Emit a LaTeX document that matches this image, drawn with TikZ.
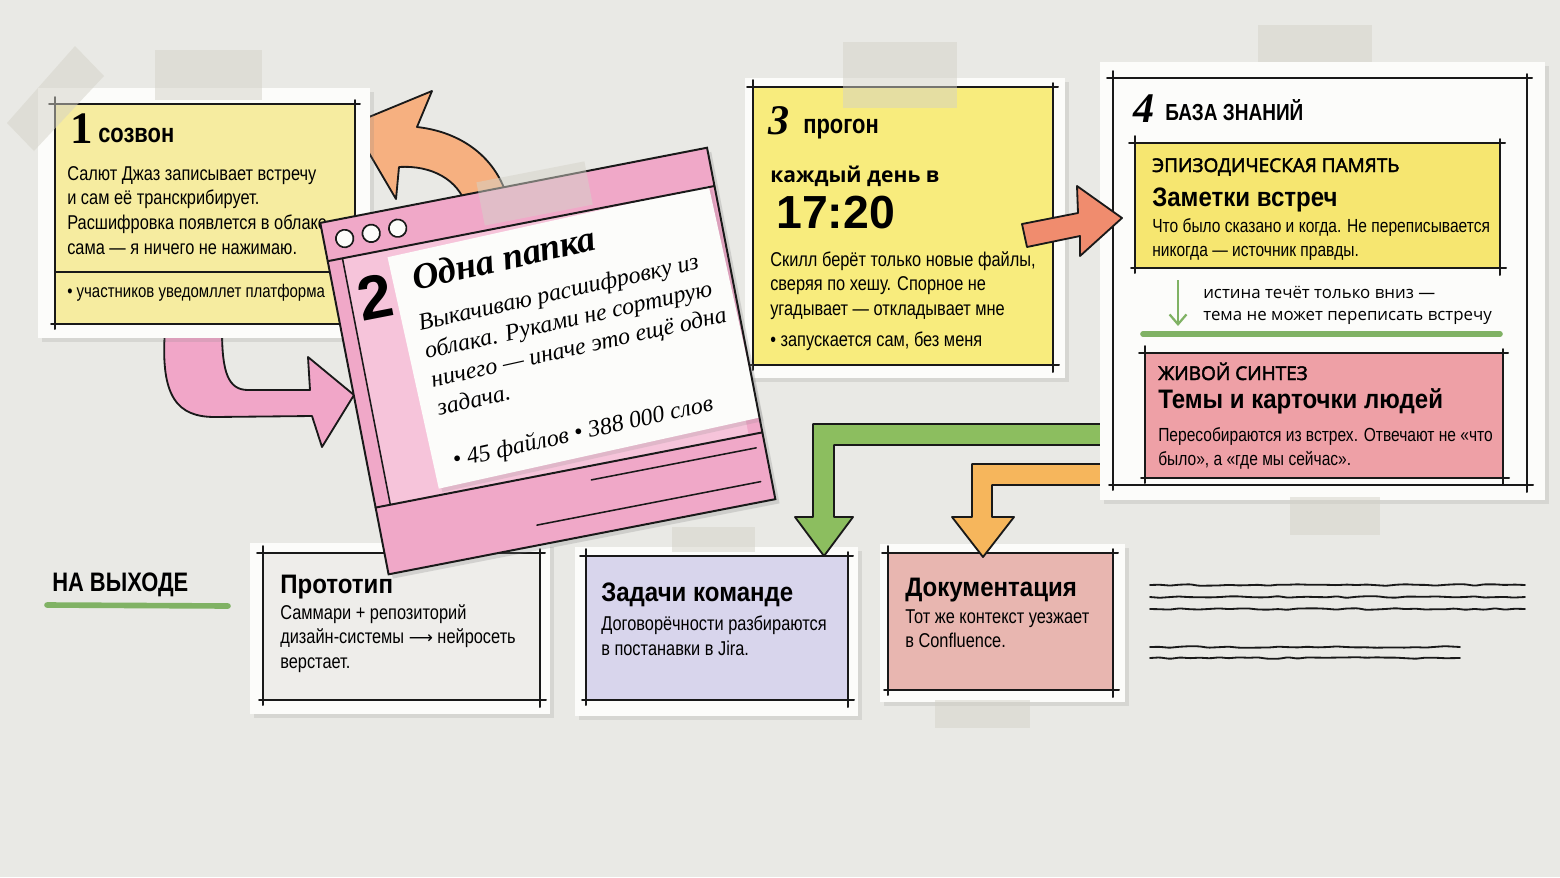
\documentclass[tikz,border=0pt]{standalone}
\usepackage{fontspec}
\setmainfont{Liberation Sans}[FakeStretch=0.82]
\newfontfamily\headfont{Liberation Sans}[FakeStretch=0.9]
\newfontfamily\plainsans{Liberation Sans}
\newfontfamily\widefont{Open Sans}
\newfontfamily\kickerfont{Open Sans}[FakeBold=2.5]
\newfontfamily\handfont{Liberation Serif}
\newfontfamily\symfont{DejaVu Sans}
\usetikzlibrary{positioning,shadows,arrows.meta,decorations.pathmorphing}

\definecolor{wall}{RGB}{233,233,229}
\definecolor{paperwhite}{RGB}{252,252,250}
\definecolor{tapegray}{RGB}{212,210,200}
\definecolor{ink}{RGB}{25,25,25}
\definecolor{noteone}{RGB}{246,236,160}
\definecolor{notethree}{RGB}{248,236,125}
\definecolor{notefour}{RGB}{246,230,112}
\definecolor{pinkcard}{RGB}{240,168,200}
\definecolor{pinklight}{RGB}{246,196,218}
\definecolor{pinkarrow}{RGB}{241,166,200}
\definecolor{orangearrow}{RGB}{246,176,128}
\definecolor{salmon}{RGB}{240,140,110}
\definecolor{greenarrow}{RGB}{140,190,95}
\definecolor{amber}{RGB}{246,182,92}
\definecolor{rosebox}{RGB}{238,160,166}
\definecolor{lavender}{RGB}{216,213,236}
\definecolor{docpink}{RGB}{232,182,176}
\definecolor{protogray}{RGB}{238,237,234}
\definecolor{sage}{RGB}{128,178,100}

\tikzset{
  paper/.style={fill=paperwhite, drop shadow={opacity=0.18, shadow xshift=2.5pt, shadow yshift=-2.5pt}},
  sketch/.style={draw=ink, line width=1.4pt, line cap=round},
  tapestrip/.style={fill=tapegray, fill opacity=0.5},
  blockarrow/.style={draw=ink, line width=1.3pt, line join=round},
  numtag/.style={font=\handfont\bfseries\itshape\fontsize{30}{30}\selectfont, inner sep=0pt, anchor=base west},
  headtag/.style={font=\bfseries\fontsize{19}{22}\selectfont, inner sep=0pt, anchor=base west},
  bodytext/.style={font=\fontsize{14.2}{17.5}\selectfont, align=left, inner sep=0pt, anchor=north west},
  kicker/.style={font=\kickerfont\fontsize{13.5}{16}\selectfont, inner sep=0pt, anchor=base west},
  subhead/.style={font=\headfont\bfseries\fontsize{19}{22}\selectfont, inner sep=0pt, anchor=base west},
  handtitle/.style={font=\handfont\bfseries\itshape\fontsize{26}{30}\selectfont, inner sep=0pt, anchor=base west},
  handbody/.style={font=\handfont\itshape\fontsize{17}{20.6}\selectfont, align=left, inner sep=0pt, anchor=north west},
  scribble/.style={draw=ink, line width=1.3pt, line cap=round, rounded corners=1pt, decorate, decoration={random steps, segment length=7pt, amplitude=0.6pt}},
}

% hand-drawn frame, lines run a little past the corners
\newcommand{\sketchframe}[4]{%
  \draw[sketch] (#1-6,#2) -- (#3+5,#2);
  \draw[sketch] (#1,#2-7) -- (#1,#4+5);
  \draw[sketch] (#3,#2-4) -- (#3,#4+7);
  \draw[sketch] (#1-4,#4) -- (#3+6,#4);
}

\begin{document}
\begin{tikzpicture}[x=0.025cm, y=-0.025cm]
\fill[wall] (0,0) rectangle (1560,877);
\useasboundingbox (0,0) rectangle (1560,877);

% arrows that go under the cards
\draw[blockarrow, fill=pinkarrow] (165,330) .. controls (160,398) and (178,417) .. (215,417) -- (312,416) -- (322,447) -- (354,395) -- (308,357) -- (310,390) -- (248,390) .. controls (228,390) and (222,372) .. (222,330) -- cycle;
\draw[blockarrow, fill=orangearrow] (352,124) -- (432,91) -- (417,127) .. controls (462,132) and (497,158) .. (508,200) -- (466,205) .. controls (458,180) and (432,165) .. (399,167) -- (396,199) -- cycle;

% card 1
\fill[paper] (38,88) rectangle (370,338);
\fill[noteone] (55,104) rectangle (355,324);
\sketchframe{55}{104}{355}{324}
\draw[sketch, line width=1.1pt] (55,272) -- (345,272);
\node[font=\handfont\bfseries\fontsize{32}{32}\selectfont, inner sep=0pt, anchor=base west] (n1) at (70,143) {1};
\node[headtag] (t1) at (98,142) {созвон};
\node[bodytext] (b1) at (67,166) {Салют Джаз записывает встречу\\и сам её транскрибирует.\\Расшифровка появлется в облаке\\сама — я ничего не нажимаю.};
\node[bodytext, font=\fontsize{13}{16}\selectfont] (f1) at (67,284) {• участников уведомллет платформа};

% card 3
\fill[paper] (745,78) rectangle (1065,378);
\fill[notethree] (753,87) rectangle (1053,365);
\sketchframe{753}{87}{1053}{365}
\node[numtag] (n3) at (768,134) {3};
\node[headtag] (t3) at (803,133) {прогон};
\node[font=\widefont\bfseries\fontsize{15}{18}\selectfont, inner sep=0pt, anchor=base west] (k3) at (770,182) {каждый день в};
\node[font=\plainsans\bfseries\fontsize{33}{33}\selectfont, inner sep=0pt, anchor=base west] (h3) at (776,228) {17:20};
\node[bodytext] (b3) at (770,251) {Скилл берёт только новые файлы,\\сверяя по хешу. Спорное не\\угадывает — откладывает мне};
\node[bodytext] (f3) at (770,332) {• запускается сам, без меня};

% outputs
\node[font=\bfseries\fontsize{19}{22}\selectfont, inner sep=0pt, anchor=base west] (out) at (52,591) {НА ВЫХОДЕ};
\draw[sage, line width=4pt, line cap=round] (47,605) -- (228,606);

\fill[paper] (250,543) rectangle (550,714);
\fill[protogray] (263,553) rectangle (540,700);
\sketchframe{263}{553}{540}{700}
\node[subhead] (p1) at (280,593) {Прототип};
\node[bodytext] (p2) at (280,604) {Саммари + репозиторий\\дизайн-системы {\symfont\fontsize{12}{17.5}\selectfont ⟶} нейросеть\\верстает.};

\fill[paper] (575,547) rectangle (858,716);
\fill[lavender] (586,556) rectangle (848,700);
\sketchframe{586}{556}{848}{700}
\node[subhead] (z1) at (601,601) {Задачи команде};
\node[bodytext] (z2) at (601,616) {Договорёчности разбираются\\в постанавки в Jira.};

\fill[paper] (880,544) rectangle (1125,702);
\fill[docpink] (888,553) rectangle (1113,690);
\sketchframe{888}{553}{1113}{690}
\node[subhead] (d1) at (905,596) {Документация};
\node[bodytext] (d2) at (905,609) {Тот же контекст уезжает\\в Confluence.};

\foreach \y in {585,597,609}
  \draw[scribble] (1150,\y) -- (1525,\y);
\foreach \y in {647,658}
  \draw[scribble] (1150,\y) -- (1460,\y);

% arrows out of the knowledge base
\draw[blockarrow, fill=greenarrow] (1102,424) -- (813,424) -- (813,517) -- (795,517) -- (824,556) -- (853,517) -- (834,517) -- (834,445) -- (1102,445) -- cycle;
\draw[blockarrow, fill=amber] (1102,464) -- (972,464) -- (972,517) -- (952,517) -- (983,557) -- (1014,517) -- (992,517) -- (992,485) -- (1102,485) -- cycle;

% card 4
\fill[paper] (1100,62) rectangle (1545,500);
\sketchframe{1113}{78}{1527}{485}
\node[numtag] (n4) at (1133,122) {4};
\node[headtag, font=\bfseries\fontsize{16.5}{20}\selectfont] (t4) at (1165,120) {БАЗА ЗНАНИЙ};
\fill[notefour] (1135,143) rectangle (1500,268);
\sketchframe{1135}{143}{1500}{268}
\node[kicker] (k4a) at (1152,172) {ЭПИЗОДИЧЕСКАЯ ПАМЯТЬ};
\node[subhead] (h4a) at (1152,206) {Заметки встреч};
\node[bodytext, font=\fontsize{13.5}{17.5}\selectfont] (b4a) at (1152,218) {Что было сказано и когда. Не переписывается\\никогда — источник правды.};
\draw[sage, line width=1.6pt, -{Straight Barb[length=7pt, width=12pt]}] (1178,280) -- (1178,326);
\node[font=\widefont\fontsize{12}{15.6}\selectfont, align=left, inner sep=0pt, anchor=north west] (r4) at (1203,286) {истина течёт только вниз —\\тема не может переписать встречу};
\draw[sage, line width=4pt, line cap=round] (1143,334) -- (1500,334);
\fill[rosebox] (1145,353) rectangle (1503,478);
\sketchframe{1145}{353}{1503}{478}
\node[kicker] (k4b) at (1158,380) {ЖИВОЙ СИНТЕЗ};
\node[subhead] (h4b) at (1158,408) {Темы и карточки людей};
\node[bodytext, font=\fontsize{13.5}{17.5}\selectfont] (b4b) at (1158,427) {Пересобираются из встрех. Отвечают не «что\\было», а «где мы сейчас».};

% arrow 3 -> 4
\draw[blockarrow, fill=salmon] (1022,224) -- (1078,213) -- (1077,186) -- (1122,218) -- (1080,256) -- (1080,236) -- (1027,247) -- cycle;

% card 2
\begin{scope}[shift={(548,362)}, rotate=11, transform shape]
  \fill[pinkcard, drop shadow={opacity=0.25, shadow xshift=3pt, shadow yshift=-3pt}] (-197,-180) rectangle (197,178);
  \fill[pinklight] (-182,-141) rectangle (183,110);
  \fill[paper, rotate=1.5] (-134,-137) rectangle (195,100);
  \draw[sketch] (-197,-180) rectangle (197,178);
  \draw[sketch] (-197,-141) -- (197,-141);
  \draw[sketch] (-197,110) -- (197,110);
  \draw[sketch, line width=1.1pt] (-182,-141) -- (-182,110);
  \draw[sketch, line width=1.1pt] (20,124) -- (188,124);
  \draw[sketch, line width=1.1pt] (-42,158) -- (186,158);
  \foreach \x in {-176,-149,-122}
    \draw[sketch, line width=1.2pt, fill=paperwhite] (\x,-160) circle[radius=0.22cm];
  \fill[tapestrip] (-36,-190) rectangle (74,-146);
  \node[font=\plainsans\bfseries\fontsize{44}{44}\selectfont, inner sep=0pt] (n2) at (-157,-97) {2};
  \node[handtitle, rotate=1.5] (t2) at (-117,-96) {Одна папка};
  \node[handbody, rotate=1.5] (b2) at (-120,-72) {Выкачиваю расшифровку из\\облака. Руками не сортирую\\ничего — иначе это ещё одна\\задача.};
  \node[handbody, rotate=1.5, anchor=base west] (f2) at (-112,86) {• 45 файлов • 388 000 слов};
\end{scope}

% tape
\fill[tapestrip] (155,50) rectangle (262,100);
\fill[tapestrip] (7,123) -- (75,46) -- (104,76) -- (34,151) -- cycle;
\fill[tapestrip] (843,42) rectangle (957,108);
\fill[tapestrip] (1258,25) rectangle (1372,62);
\fill[tapestrip] (1290,497) rectangle (1380,535);
\fill[tapestrip] (672,527) rectangle (755,552);
\fill[tapestrip] (935,700) rectangle (1030,728);
\end{tikzpicture}
\end{document}
